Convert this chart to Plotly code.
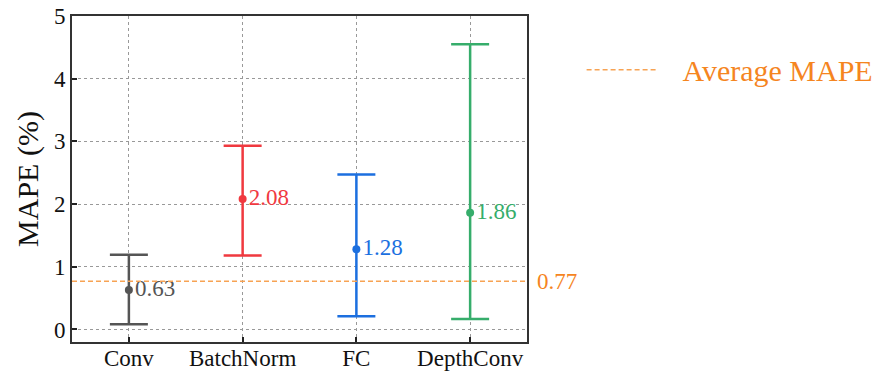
import plotly.graph_objects as go

categories = ["Conv", "BatchNorm", "FC", "DepthConv"]
means = [0.63, 2.08, 1.28, 1.86]
lows = [0.085, 1.18, 0.21, 0.165]
highs = [1.19, 2.93, 2.47, 4.55]
colors = ["#555555", "#f0393f", "#1c6fdf", "#36ad6b"]
avg_mape = 0.77
avg_label = "Average MAPE"

FONT = "Liberation Serif, Times New Roman, serif"

fig = go.Figure()
for cat, m, lo, hi, c in zip(categories, means, lows, highs, colors):
    fig.add_trace(go.Scatter(
        x=[cat], y=[m], mode="markers+text",
        marker=dict(color=c, size=8),
        text=[f"{m:.2f}"], textposition="middle right",
        textfont=dict(family=FONT, size=23, color=c),
        error_y=dict(type="data", symmetric=False,
                     array=[hi - m], arrayminus=[m - lo],
                     color=c, thickness=2.5, width=19),
        showlegend=False, cliponaxis=False,
    ))

fig.add_trace(go.Scatter(
    x=[-0.5, 3.5], y=[avg_mape, avg_mape], mode="lines",
    xaxis="x2",
    line=dict(color="#f7a354", width=1.5, dash="5px,3px"),
    name="   " + avg_label, showlegend=True,
))

fig.add_annotation(
    x=1.0, xref="paper", y=avg_mape, yref="y",
    text=f"{avg_mape:.2f}", showarrow=False, xanchor="left", xshift=8,
    font=dict(family=FONT, size=23, color="#f5851f"),
)

axis_common = dict(
    showline=True, linecolor="#333333", linewidth=2, mirror=True,
    ticks="inside", ticklen=5, tickwidth=1.5, tickcolor="#222222",
    showgrid=True, gridcolor="#999999", griddash="dot", gridwidth=1,
    zeroline=False, automargin=False, ticklabeloverflow="allow",
    tickfont=dict(family=FONT, size=23, color="#111111"),
)

fig.update_layout(
    width=878, height=374,
    margin=dict(l=72, r=351, t=16, b=32, autoexpand=False),
    plot_bgcolor="white", paper_bgcolor="white",
    xaxis=dict(type="category", categoryorder="array", categoryarray=categories,
               range=[-0.5, 3.5], ticklabelstandoff=-6, **axis_common),
    xaxis2=dict(overlaying="x", range=[-0.5, 3.5], visible=False),
    yaxis=dict(range=[-0.2, 5.0], tickvals=[0, 1, 2, 3, 4, 5],
               title=dict(text="MAPE (%)", font=dict(family=FONT, size=30, color="#111111"),
                          standoff=6),
               **axis_common),
    legend=dict(x=1.12, xanchor="left", y=0.835, yanchor="middle",
                bgcolor="rgba(0,0,0,0)", itemwidth=70,
                font=dict(family=FONT, size=30, color="#f5851f")),
)

fig.write_html("out.html", config={"displayModeBar": False},
               post_script="document.body.style.margin='0px';document.body.style.overflow='hidden';")
